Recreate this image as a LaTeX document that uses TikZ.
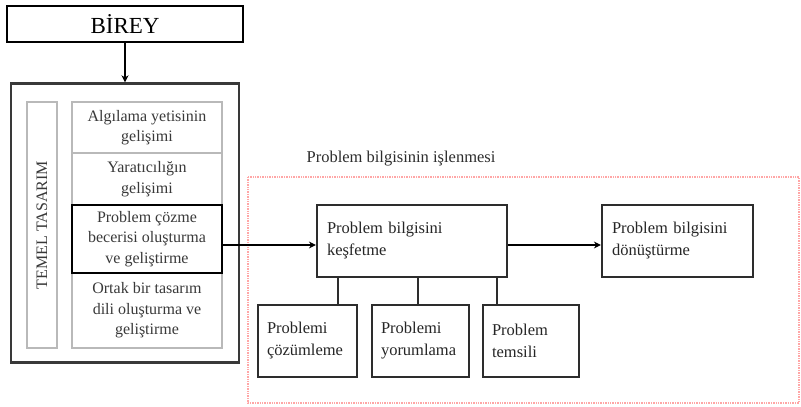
\documentclass[tikz,border=0pt]{standalone}
\usepackage{fontspec}
\setmainfont{Liberation Serif}
\usetikzlibrary{arrows.meta}

\begin{document}
\begin{tikzpicture}[
  x=1pt, y=-1pt,
  lbox/.style={draw=gray!55, line width=1.6pt, text=gray!45!black, align=center,
    minimum width=150pt, inner sep=1pt, font=\fontsize{16}{20.5}\selectfont},
  rbox/.style={draw=gray!35!black, line width=2.2pt, fill=white, align=left,
    inner xsep=10pt, inner ysep=2pt, text=gray!30!black, font=\fontsize{16.5}{22}\selectfont},
  flow/.style={line width=2.4pt, -{Stealth[length=7pt,width=7pt]}},
  stem/.style={line width=2.2pt, gray!35!black}
]
\useasboundingbox (0,0) rectangle (801,407);

% Top: BİREY
\node[draw, line width=2.6pt, minimum width=236pt, minimum height=36pt,
  font=\fontsize{23}{26}\selectfont] (birey) at (125,24) {BİREY};

% Left side: TEMEL TASARIM
\node[draw=gray!45!black, line width=2.4pt, minimum width=228pt, minimum height=279pt]
  (temel) at (125,223) {};
\node[draw=gray!55, line width=1.6pt, minimum width=30pt, minimum height=246pt]
  (serit) at (42,225) {};
\node[rotate=90, text=gray!45!black, font=\fontsize{16}{18}\selectfont] (baslik)
  at (serit.center) {TEMEL TASARIM};
\node[lbox, minimum height=51pt] (algi) at (147,127.5) {Algılama yetisinin\\gelişimi};
\node[lbox, minimum height=52pt] (yarat) at (147,179) {Yaratıcılığın\\gelişimi};
\node[lbox, minimum height=75pt] (ortak) at (147,310.5) {Ortak bir tasarım\\dili oluşturma ve\\geliştirme};
\node[lbox, draw=black, line width=2.6pt, minimum height=68pt] (cozme) at (147,239)
  {Problem çözme\\becerisi oluşturma\\ve geliştirme};
\draw[flow] (birey.south) -- (temel.north);

% Right side: problem bilgisinin islenmesi
\draw[red!35, densely dotted, line width=1.4pt] (248,177) rectangle (799,403);
\node[text=gray!35!black, font=\fontsize{16.5}{18}\selectfont] (islenme) at (401,159)
  {Problem bilgisinin işlenmesi};
\node[rbox, text width=170pt, minimum height=72pt] (kesif) at (412,241)
  {Problem bilgisini\\keşfetme};
\node[rbox, text width=131pt, minimum height=72pt] (donus) at (677.5,241)
  {Problem bilgisini\\dönüştürme};
\node[rbox, text width=81pt, inner xsep=9pt, minimum height=72pt] (cozum) at (307.5,341)
  {Problemi\\çözümleme};
\node[rbox, text width=79pt, inner xsep=9pt, minimum height=72pt] (yorum) at (420.5,341)
  {Problemi\\yorumlama};
\node[rbox, text width=78pt, inner xsep=9pt, minimum height=72pt] (temsil) at (531,341)
  {Problem\\temsili};

% Connectors
\coordinate (hat) at (0,245);
\draw[flow] (cozme.east |- hat) -- (kesif.west |- hat);
\draw[flow] (kesif.east |- hat) -- (donus.west |- hat);
\coordinate (k1) at (338,0);
\coordinate (k2) at (418,0);
\coordinate (k3) at (497,0);
\draw[stem] (kesif.south -| k1) -- (cozum.north -| k1);
\draw[stem] (kesif.south -| k2) -- (yorum.north -| k2);
\draw[stem] (kesif.south -| k3) -- (temsil.north -| k3);

\end{tikzpicture}
\end{document}
